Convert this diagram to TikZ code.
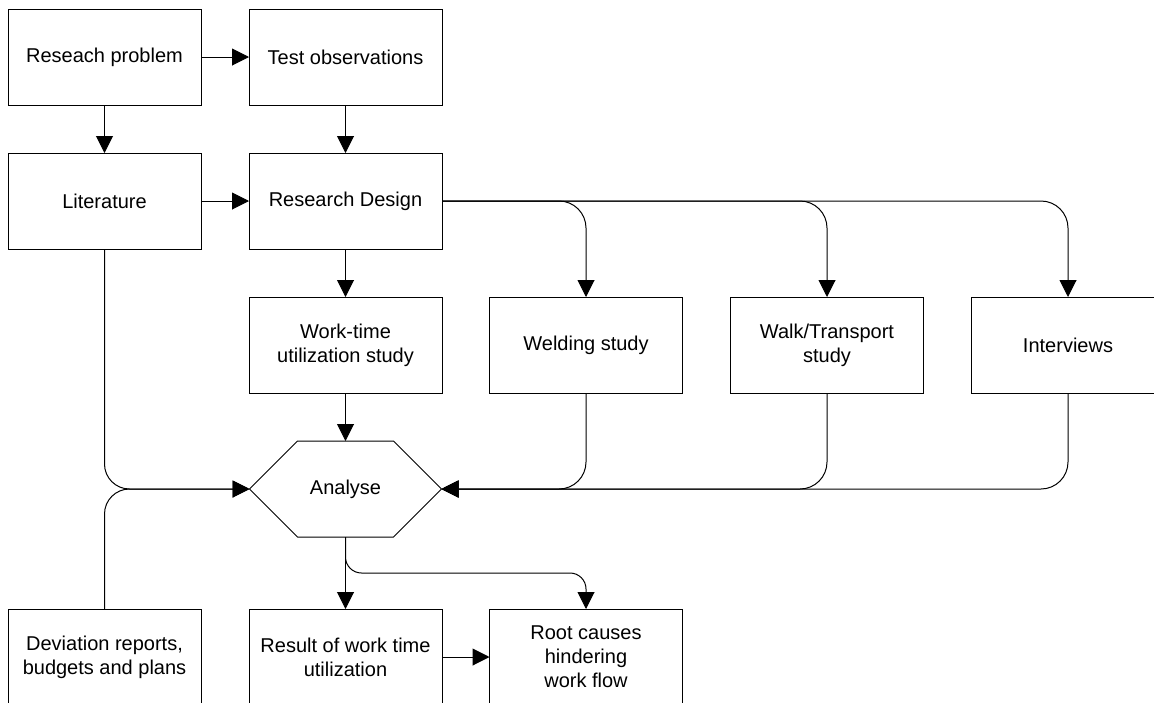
\documentclass[tikz,border=0pt]{standalone}
\usepackage{fontspec}
\setmainfont{Liberation Sans}
\usetikzlibrary{arrows.meta,calc}

\tikzset{
  stepbox/.style={draw, line width=1pt, minimum width=193pt, minimum height=96pt,
    inner sep=0pt, outer sep=0pt, align=center,
    font=\fontsize{20}{24}\selectfont},
  hexnode/.style={minimum width=192pt, minimum height=96pt, inner sep=0pt,
    outer sep=0pt, font=\fontsize{20}{24}\selectfont},
  flow/.style={line width=1pt, -{Triangle[length=17pt,width=17pt]}},
  link/.style={line width=1pt},
}

\begin{document}
\begin{tikzpicture}[x=1pt,y=-1pt]
  \path[use as bounding box, clip] (0,0) rectangle (1154,702);

  % process boxes
  \node[stepbox] (rp)  at (104.5,57)  {Reseach problem};
  \node[stepbox] (to)  at (345.5,57)  {Test observations};
  \node[stepbox] (lit) at (104.5,201) {Literature};
  \node[stepbox] (rd)  at (345.5,201) {Research Design};
  \node[stepbox] (wt)  at (345.5,345) {Work-time\\utilization study};
  \node[stepbox] (ws)  at (586,345)   {Welding study};
  \node[stepbox] (wk)  at (827,345)   {Walk/Transport\\study};
  \node[stepbox] (iv)  at (1068,345)  {Interviews};
  \node[stepbox] (dev) at (104.5,657) {Deviation reports,\\budgets and plans};
  \node[stepbox] (res) at (345.5,657) {Result of work time\\utilization};
  \node[stepbox] (rc)  at (586,657)   {Root causes\\hindering\\work flow};

  % hexagonal analysis step
  \node[hexnode] (an) at (345.5,489) {Analyse};
  \draw[link] (an.west) -- ($(an.north west)+(48,0)$) -- ($(an.north east)+(-48,0)$)
    -- (an.east) -- ($(an.south east)+(-48,0)$) -- ($(an.south west)+(48,0)$) -- cycle;

  % straight connectors
  \draw[flow] (rp.east) -- (to.west);
  \draw[flow] (rp.south) -- (lit.north);
  \draw[flow] (to.south) -- (rd.north);
  \draw[flow] (lit.east) -- (rd.west);
  \draw[flow] (rd.south) -- (wt.north);
  \draw[flow] (wt.south) -- (an.north);
  \draw[flow] (an.south) -- (res.north);
  \draw[flow] (res.east) -- (rc.west);

  % branches from the research design
  \draw[flow, rounded corners=27pt] (rd.east) -| (ws.north);
  \draw[flow, rounded corners=27pt] (rd.east) -| (wk.north);
  \draw[flow, rounded corners=27pt] (rd.east) -| (iv.north);

  % inputs merging into the analysis
  \draw[flow, rounded corners=25pt] (lit.south) |- (an.west);
  \draw[flow, rounded corners=25pt] (dev.north) |- (an.west);
  \draw[flow, rounded corners=27pt] (ws.south) |- (an.east);
  \draw[flow, rounded corners=27pt] (wk.south) |- (an.east);
  \draw[flow, rounded corners=27pt] (iv.south) |- (an.east);

  % analysis to root causes
  \draw[flow, rounded corners=16pt] (an.south) -- ++(0,36) -| (rc.north);
\end{tikzpicture}
\end{document}
